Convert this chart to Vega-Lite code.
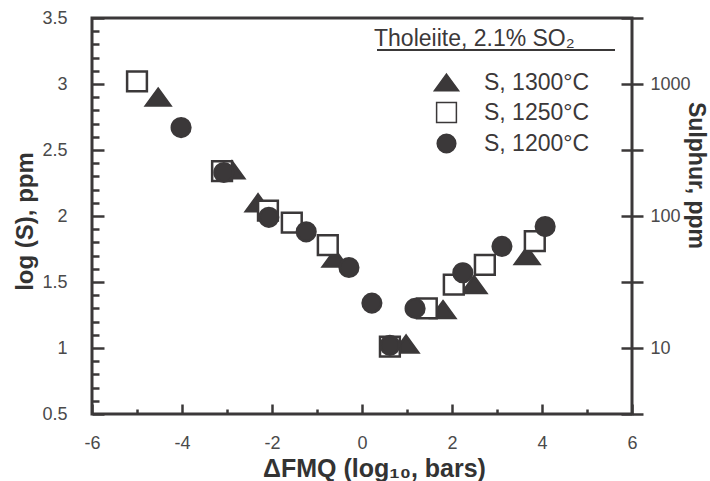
{
  "$schema": "https://vega.github.io/schema/vega-lite/v6.json",
  "width": 540,
  "height": 396,
  "autosize": {"type": "none"},
  "padding": {"left": 92, "top": 18, "right": 78, "bottom": 67},
  "background": "white",
  "config": {
    "font": "Liberation Sans",
    "view": {"stroke": "#3b3839", "strokeWidth": 3},
    "axis": {"grid": false, "domain": false}
  },
  "data": {
    "values": [
      {"series": "S, 1300°C", "dfmq": -4.53, "logS": 2.90},
      {"series": "S, 1300°C", "dfmq": -2.89, "logS": 2.35},
      {"series": "S, 1300°C", "dfmq": -2.31, "logS": 2.10},
      {"series": "S, 1300°C", "dfmq": -0.60, "logS": 1.68},
      {"series": "S, 1300°C", "dfmq": 0.98, "logS": 1.03},
      {"series": "S, 1300°C", "dfmq": 1.80, "logS": 1.29},
      {"series": "S, 1300°C", "dfmq": 2.49, "logS": 1.48},
      {"series": "S, 1300°C", "dfmq": 3.67, "logS": 1.70},
      {"series": "S, 1250°C", "dfmq": -5.00, "logS": 3.02},
      {"series": "S, 1250°C", "dfmq": -3.11, "logS": 2.34},
      {"series": "S, 1250°C", "dfmq": -2.09, "logS": 2.04},
      {"series": "S, 1250°C", "dfmq": -1.56, "logS": 1.95},
      {"series": "S, 1250°C", "dfmq": -0.76, "logS": 1.78},
      {"series": "S, 1250°C", "dfmq": 0.62, "logS": 1.01},
      {"series": "S, 1250°C", "dfmq": 1.44, "logS": 1.30},
      {"series": "S, 1250°C", "dfmq": 2.04, "logS": 1.48},
      {"series": "S, 1250°C", "dfmq": 2.73, "logS": 1.63},
      {"series": "S, 1250°C", "dfmq": 3.84, "logS": 1.81},
      {"series": "S, 1200°C", "dfmq": -4.02, "logS": 2.67},
      {"series": "S, 1200°C", "dfmq": -3.07, "logS": 2.33},
      {"series": "S, 1200°C", "dfmq": -2.07, "logS": 1.99},
      {"series": "S, 1200°C", "dfmq": -1.24, "logS": 1.88},
      {"series": "S, 1200°C", "dfmq": -0.29, "logS": 1.61},
      {"series": "S, 1200°C", "dfmq": 0.22, "logS": 1.34},
      {"series": "S, 1200°C", "dfmq": 0.62, "logS": 1.02},
      {"series": "S, 1200°C", "dfmq": 1.18, "logS": 1.30},
      {"series": "S, 1200°C", "dfmq": 2.24, "logS": 1.57},
      {"series": "S, 1200°C", "dfmq": 3.11, "logS": 1.77},
      {"series": "S, 1200°C", "dfmq": 4.07, "logS": 1.92}
    ]
  },
  "layer": [
    {
      "mark": {"type": "point", "filled": true, "size": 729, "opacity": 1, "stroke": "#3b3839", "strokeWidth": 2.5},
      "encoding": {
        "x": {
          "field": "dfmq", "type": "quantitative",
          "scale": {"domain": [-6, 6], "nice": false, "zero": false},
          "axis": {
            "title": "ΔFMQ (log₁₀, bars)",
            "values": [-6,-5.5,-5,-4.5,-4,-3.5,-3,-2.5,-2,-1.5,-1,-0.5,0,0.5,1,1.5,2,2.5,3,3.5,4,4.5,5,5.5,6],
            "labelExpr": "datum.value % 2 == 0 ? toString(datum.value) : ''",
            "labelFlush": false, "labelOverlap": false,
            "labelFontSize": 18, "labelColor": "#4a4a4a", "labelPadding": 30,
            "ticks": true, "tickColor": "#3b3839", "tickWidth": 2.5,
            "tickSize": {"condition": {"test": "datum.value % 2 == 0", "value": -10}, "value": -5},
            "titleFontSize": 25, "titleFontWeight": "bold", "titleColor": "#333333",
            "titleX": 282, "titleY": 62, "titleBaseline": "alphabetic", "titleAlign": "center"
          }
        },
        "y": {
          "field": "logS", "type": "quantitative",
          "scale": {"domain": [0.5, 3.5], "nice": false, "zero": false},
          "axis": {
            "title": "log (S), ppm", "orient": "left",
            "values": [0.5,0.6,0.7,0.8,0.9,1,1.1,1.2,1.3,1.4,1.5,1.6,1.7,1.8,1.9,2,2.1,2.2,2.3,2.4,2.5,2.6,2.7,2.8,2.9,3,3.1,3.2,3.3,3.4,3.5],
            "labelExpr": "indexof([0.5,1,1.5,2,2.5,3,3.5], datum.value) >= 0 ? toString(datum.value) : ''",
            "labelFlush": false, "labelOverlap": false,
            "labelFontSize": 18, "labelColor": "#4a4a4a", "labelPadding": 37,
            "ticks": true, "tickColor": "#3b3839", "tickWidth": 2.5,
            "tickSize": {"condition": {"test": "indexof([0.5,1,1.5,2,2.5,3,3.5], datum.value) >= 0", "value": -12}, "value": -7},
            "titleFontSize": 24, "titleFontWeight": "bold", "titleColor": "#333333",
            "titleX": -67, "titleY": 203, "titleBaseline": "middle", "titleAlign": "center"
          }
        },
        "shape": {
          "field": "series", "type": "nominal",
          "scale": {
            "domain": ["S, 1300°C", "S, 1250°C", "S, 1200°C"],
            "range": ["M0,-0.62L0.9,0.62L-0.9,0.62Z", "M-0.733,-0.733L0.733,-0.733L0.733,0.733L-0.733,0.733Z", "M0.69,0A0.69,0.69,0,1,1,-0.69,0A0.69,0.69,0,1,1,0.69,0Z"]
          },
          "legend": {
            "title": "Tholeiite, 2.1% SO₂", "orient": "none", "legendX": 282, "legendY": 10, "padding": 0,
            "titleFontSize": 23, "titleFontWeight": "normal", "titleColor": "#3b3839", "titlePadding": 17, "titleLimit": 400,
            "labelFontSize": 23, "labelColor": "#3b3839", "labelLimit": 300, "labelOffset": 23,
            "symbolOffset": 58, "symbolSize": 729, "rowPadding": 3,
            "encode": {"symbols": {"update": {"stroke": {"value": "#3b3839"}, "strokeWidth": {"value": 2.5}}}}
          }
        },
        "fill": {
          "field": "series", "type": "nominal",
          "scale": {"domain": ["S, 1300°C", "S, 1250°C", "S, 1200°C"], "range": ["#3b3839", "#ffffff", "#3b3839"]},
          "legend": {
            "title": "Tholeiite, 2.1% SO₂", "orient": "none", "legendX": 282, "legendY": 10, "padding": 0,
            "titleFontSize": 23, "titleFontWeight": "normal", "titleColor": "#3b3839", "titlePadding": 17, "titleLimit": 400,
            "labelFontSize": 23, "labelColor": "#3b3839", "labelLimit": 300, "labelOffset": 23,
            "symbolOffset": 58, "symbolSize": 729, "rowPadding": 3,
            "encode": {"symbols": {"update": {"stroke": {"value": "#3b3839"}, "strokeWidth": {"value": 2.5}}}}
          }
        }
      }
    },
    {
      "mark": {"type": "rule", "strokeWidth": 1.5, "color": "#3b3839"},
      "encoding": {
        "x": {"datum": 0.333, "type": "quantitative"},
        "x2": {"datum": 5.62},
        "y": {
          "datum": 3.258, "type": "quantitative",
          "axis": {
            "title": "Sulphur, ppm", "orient": "right",
            "values": [0.5,1,1.5,2,2.5,3,3.5],
            "labelExpr": "datum.value % 1 == 0 && datum.value >= 1 && datum.value <= 3 ? toString(pow(10, datum.value)) : ''",
            "labelFlush": false, "labelOverlap": false,
            "labelFontSize": 18, "labelColor": "#4a4a4a", "labelPadding": 7,
            "ticks": true, "tickSize": 11, "tickColor": "#3b3839", "tickWidth": 2.5,
            "titleFontSize": 23, "titleFontWeight": "bold", "titleColor": "#333333",
            "titleX": 63, "titleY": 157, "titleBaseline": "middle", "titleAlign": "center", "titleAngle": 90
          }
        }
      }
    },
    {
      "mark": {"type": "rule", "opacity": 0},
      "encoding": {
        "y": {
          "datum": 3.258, "type": "quantitative",
          "axis": {
            "title": null, "orient": "right", "labels": false,
            "values": [0.5,1,1.5,2,2.5,3,3.5],
            "ticks": true, "tickSize": -11, "tickColor": "#3b3839", "tickWidth": 2.5
          }
        }
      }
    }
  ],
  "resolve": {"axis": {"y": "independent"}}
}
